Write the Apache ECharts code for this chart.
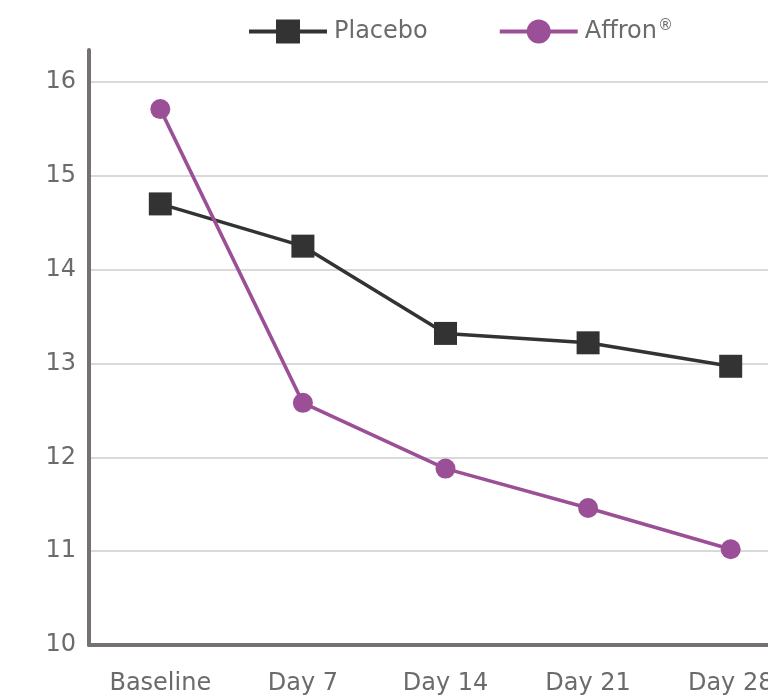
<!DOCTYPE html>
<html><head><meta charset="utf-8">
<script src="https://cdn.jsdelivr.net/npm/echarts@6/dist/echarts.min.js"></script>
<style>html,body{margin:0;padding:0;background:#fff}#c{width:768px;height:697px}</style>
</head><body><div id="c"></div>
<script>
var categories = ['Baseline', 'Day 7', 'Day 14', 'Day 21', 'Day 28'];
var placebo = [14.70, 14.25, 13.32, 13.22, 12.97];
var affron = [15.71, 12.58, 11.88, 11.46, 11.02];
var yTicks = [10, 11, 12, 13, 14, 15, 16];
var seriesNames = ['Placebo', 'Affron®'];

var chart = echarts.init(document.getElementById('c'));
var font = 'DejaVu Sans';
chart.setOption({
  animation: false,
  backgroundColor: '#fff',
  legend: {
    left: 242, top: 14,
    itemWidth: 78, itemHeight: 30, itemGap: 70,
    lineStyle: {width: 4},
    formatter: function (n) { return n.replace('®', '{r|®}'); },
    textStyle: {fontFamily: font, fontSize: 24, color: '#6b6b6b', padding: [0,0,0,2],
      rich: {r: {fontFamily: font, fontSize: 15, color: '#6b6b6b', verticalAlign: 'top', padding: [0,0,10,1]}}},
    data: seriesNames
  },
  grid: {left: 89, top: 50, bottom: 52, right: -34, outerBoundsMode: 'none'},
  xAxis: {
    type: 'category', data: categories, boundaryGap: true,
    axisLine: {lineStyle: {color: '#767171', width: 4}},
    axisTick: {show: false},
    axisLabel: {fontFamily: font, fontSize: 24, color: '#6b6b6b', margin: 27}
  },
  yAxis: {
    type: 'value', min: yTicks[0], max: 16.34, interval: 1,
    axisLine: {show: true, lineStyle: {color: '#767171', width: 4}},
    axisTick: {show: false},
    axisLabel: {fontFamily: font, fontSize: 24, color: '#6b6b6b', margin: 13, showMaxLabel: false},
    splitLine: {show: true, showMaxLine: false, lineStyle: {color: '#d9d9d9', width: 2}}
  },
  series: [
    {name: seriesNames[0], type: 'line', data: placebo, symbol: 'rect', symbolSize: 23,
     lineStyle: {color: '#333333', width: 3.5}, itemStyle: {color: '#333333'}},
    {name: seriesNames[1], type: 'line', data: affron, symbol: 'circle', symbolSize: 20,
     lineStyle: {color: '#9b4f96', width: 3.5}, itemStyle: {color: '#9b4f96'}}
  ]
});
</script></body></html>
